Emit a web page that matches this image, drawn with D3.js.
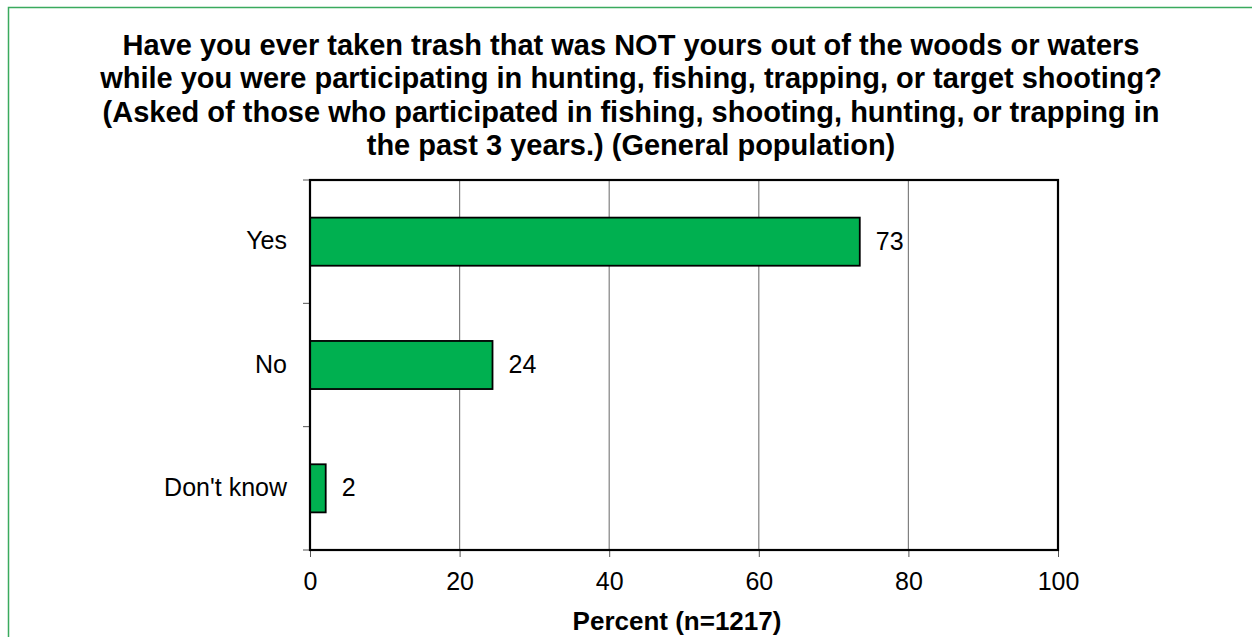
<!DOCTYPE html>
<html>
<head>
<meta charset="utf-8">
<script src="https://cdn.jsdelivr.net/npm/d3@7"></script>
<style>
  body { margin: 0; background: #fff; }
  svg { display: block; font-family: Arial, "Liberation Sans", sans-serif; }
</style>
</head>
<body>
<div id="chart"></div>
<script>
// Horizontal bar chart, one series, three answers.

const titleLines = [
  'Have you ever taken trash that was NOT yours out of the woods or waters',
  'while you were participating in hunting, fishing, trapping, or target shooting?',
  '(Asked of those who participated in fishing, shooting, hunting, or trapping in',
  'the past 3 years.) (General population)'
];
const categories = ['Yes', 'No', "Don't know"];
const percents = [73.5, 24.4, 2.1];
const labels = ['73', '24', '2'];
const xTicks = [0, 20, 40, 60, 80, 100];
const xTitle = 'Percent (n=1217)';

const W = 1252, H = 637;
const margin = { top: 180, right: 194, bottom: 87, left: 310 };
const w = W - margin.left - margin.right;
const h = H - margin.top - margin.bottom;
const LABEL = 25;

const svg = d3.select('#chart').append('svg')
  .attr('width', W).attr('height', H);

// green page frame
svg.append('rect')
  .attr('x', 8.5).attr('y', 7.5).attr('width', 1300).attr('height', 700)
  .attr('fill', 'none').attr('stroke', '#3aaa5e').attr('stroke-width', 1.5);

svg.append('text')
  .attr('x', 631).attr('y', 55)
  .attr('text-anchor', 'middle')
  .attr('font-size', 29).attr('font-weight', 'bold')
  .selectAll('tspan').data(titleLines).enter().append('tspan')
  .attr('x', 631).attr('dy', (d, i) => i ? 33.4 : 0)
  .text(d => d);

const g = svg.append('g').attr('transform', `translate(${margin.left},${margin.top})`);

const x = d3.scaleLinear().domain([0, 100]).range([0, w]);
const y = d3.scaleBand().domain(categories).range([0, h]).paddingInner(0.61).paddingOuter(0.305);

// gridlines
g.append('g').selectAll('line').data(xTicks.slice(1, -1)).enter().append('line')
  .attr('x1', d => x(d)).attr('x2', d => x(d))
  .attr('y1', 0).attr('y2', h)
  .attr('stroke', '#808080').attr('stroke-width', 1.2);

// bars
g.append('g').selectAll('rect').data(percents).enter().append('rect')
  .attr('x', x(0))
  .attr('y', (d, i) => y(categories[i]))
  .attr('width', d => x(d) - x(0))
  .attr('height', y.bandwidth())
  .attr('fill', '#00b050')
  .attr('stroke', '#000').attr('stroke-width', 1.8);

// value labels
g.append('g').selectAll('text').data(percents).enter().append('text')
  .attr('x', d => x(d) + 16)
  .attr('y', (d, i) => y(categories[i]) + y.bandwidth() / 2)
  .attr('dy', '0.32em')
  .attr('font-size', LABEL).attr('fill', '#000')
  .text((d, i) => labels[i]);

// x axis
const xAxis = g.append('g').attr('transform', `translate(0,${h})`)
  .call(d3.axisBottom(x).tickValues(xTicks).tickSize(7));
xAxis.select('.domain').remove();
xAxis.selectAll('line').attr('stroke', '#555');
xAxis.selectAll('text')
  .attr('y', 40).attr('dy', 0)
  .attr('font-size', LABEL).attr('fill', '#000')
  .attr('font-family', 'Arial, "Liberation Sans", sans-serif');

// y axis: ticks on band edges, labels at band centres
const edges = d3.range(categories.length + 1).map(i => i * h / categories.length);
g.append('g').selectAll('line').data(edges).enter().append('line')
  .attr('x1', -7).attr('x2', 0)
  .attr('y1', d => d).attr('y2', d => d)
  .attr('stroke', '#555');

g.append('g').selectAll('text').data(categories).enter().append('text')
  .attr('x', -23)
  .attr('y', d => y(d) + y.bandwidth() / 2)
  .attr('dy', '0.3em')
  .attr('text-anchor', 'end')
  .attr('font-size', LABEL).attr('fill', '#000')
  .text(d => d);

// plot frame
g.append('rect')
  .attr('x', 0).attr('y', 0).attr('width', w).attr('height', h)
  .attr('fill', 'none').attr('stroke', '#000').attr('stroke-width', 2.2);

svg.append('text')
  .attr('x', 677).attr('y', 630)
  .attr('text-anchor', 'middle')
  .attr('font-size', 26).attr('font-weight', 'bold')
  .text(xTitle);
</script>
</body>
</html>
